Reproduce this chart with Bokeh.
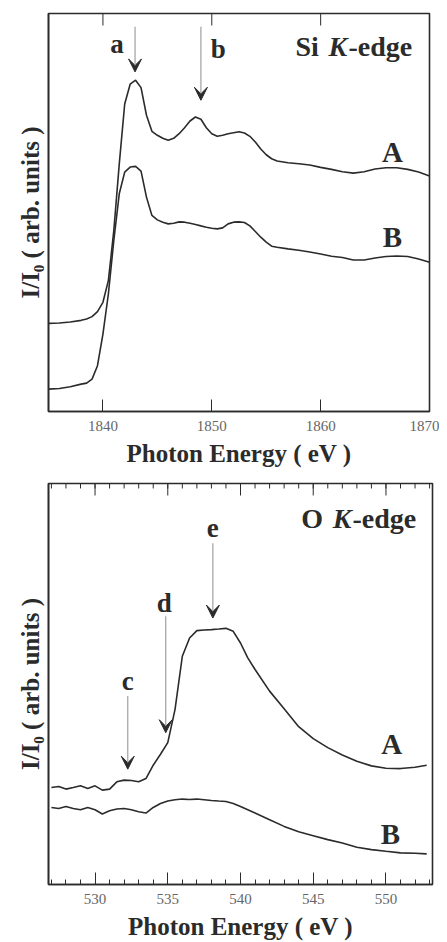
from bokeh.plotting import figure
from bokeh.layouts import column
from bokeh.models import Range1d, FixedTicker, Arrow, VeeHead
from bokeh.core.properties import value
from bokeh.embed import file_html
from bokeh.resources import INLINE

# ---------------- Si K-edge data ----------------
si_energy = [1835, 1836, 1837, 1838, 1838.5, 1839, 1839.5, 1840, 1840.5, 1841, 1841.5, 1842,
             1842.5, 1843, 1843.5, 1844, 1844.5, 1845, 1845.5, 1846, 1846.5, 1847, 1847.5,
             1848, 1848.5, 1849, 1849.5, 1850, 1850.5, 1851, 1851.5, 1852, 1852.5, 1853,
             1853.5, 1854, 1854.5, 1855, 1855.5, 1856, 1857, 1858, 1859, 1860, 1861, 1862,
             1863, 1864, 1865, 1866, 1867, 1868, 1869, 1870]
si_A = [88, 88.3, 89.3, 91, 92.3, 94.7, 99.7, 109, 130.7, 180.7, 247, 307,
        326.7, 330.7, 323.3, 295.7, 279.7, 275.7, 272.7, 270.7, 272.7, 277.3, 283.3,
        290, 294, 291.7, 283.3, 277.3, 274.7, 275.7, 277.3, 278.3, 279.3, 278,
        274.7, 269, 262, 256.3, 252.3, 250, 248.3, 247.3, 246, 243.7, 241.7, 239.3,
        238, 239.3, 242, 243.3, 243.3, 241.7, 239, 235]
si_B = [22.3, 23, 24.7, 27.3, 28.3, 32.3, 45.7, 77.3, 117.3, 170.7, 217.3, 239,
        244, 244.7, 240, 214, 195.7, 191.3, 189, 187.3, 188, 189.3, 189,
        188, 186.7, 185.3, 184, 183, 182.3, 183.3, 187.3, 189, 189.3, 188.7,
        185.3, 179.7, 174, 169, 165, 164, 162.3, 161, 159.3, 157.3, 155, 153.7,
        151.3, 151.3, 153.3, 154.7, 155.3, 154.7, 152.3, 149]
si_ticks = [1840, 1850, 1860, 1870]
si_arrow_labels = ["a", "b"]
si_arrow_x = [1842.95, 1849.0]
si_arrow_top = [384, 384]
si_arrow_tip = [339, 310.7]
si_label_x = [1841.3, 1850.6]
si_label_y = [367, 362]
si_series_names = ["A", "B"]
si_series_x = [1866.6, 1866.6]
si_series_y = [259, 174]

# ---------------- O K-edge data ----------------
o_energy = [527, 527.5, 528, 528.5, 529, 529.5, 530, 530.5, 531, 531.5, 532, 532.5, 533,
            533.5, 534, 534.5, 535, 535.5, 536, 536.5, 537, 537.5, 538, 538.5, 539,
            539.5, 540, 540.5, 541, 542, 543, 544, 545, 546, 547, 548, 549, 550, 551,
            552, 552.8]
o_A = [97.3, 98.3, 95.7, 97.3, 99, 96.3, 99, 94.7, 95.7, 103, 104.7, 104.3, 103,
       106.3, 119.7, 130.7, 142.3, 175.7, 229, 247.3, 254.7, 255.3, 255.7, 256.3, 257,
       254, 242.3, 227.3, 215.7, 194, 176.3, 158.3, 146.3, 137.3, 130, 123.7, 119, 116.7, 116.3,
       117.7, 119.7]
o_B = [77.3, 76.3, 78.3, 76.3, 75, 77.3, 75, 70.7, 74, 75.7, 76.3, 75, 73,
       71.7, 77.3, 81.3, 83.7, 85, 85.7, 85.3, 85.7, 85, 84.3, 83.7, 83.3,
       81.3, 78.3, 75, 71.7, 65, 58.3, 53, 49, 45, 41.7, 37.3, 35, 33.3, 31.7,
       31.3, 30.7]
o_ticks = [530, 535, 540, 545, 550]
o_minor_ticks = list(range(527, 554))
o_arrow_labels = ["c", "d", "e"]
o_arrow_x = [532.25, 534.86, 538.1]
o_arrow_top = [189, 269, 342.3]
o_arrow_tip = [115.7, 152.3, 267.3]
o_label_x = [532.25, 534.75, 538.1]
o_label_y = [204, 282.3, 357.3]
o_series_names = ["A", "B"]
o_series_x = [550.4, 550.3]
o_series_y = [140.7, 50.7]

SERIF = "Liberation Serif"
INK = "#2b2b2b"


def style(p, ticker_major, minor=None, label="Photon Energy ( eV )"):
    p.grid.visible = False
    p.outline_line_color = INK
    p.outline_line_width = 1.6
    p.background_fill_color = "white"
    p.border_fill_color = "white"
    xa = p.xaxis[0]
    xa.ticker = FixedTicker(ticks=ticker_major, minor_ticks=minor or [])
    xa.major_tick_in = 12
    xa.major_tick_out = 0
    xa.minor_tick_in = 5
    xa.minor_tick_out = 0
    xa.major_tick_line_color = INK
    xa.minor_tick_line_color = INK
    xa.axis_line_color = INK
    xa.axis_line_width = 1.6
    xa.major_label_text_font = SERIF
    xa.major_label_text_font_size = "15px"
    xa.major_label_text_color = "#666666"
    xa.major_label_standoff = 9
    xa.axis_label = label
    xa.axis_label_text_font = SERIF
    xa.axis_label_text_font_style = "bold"
    xa.axis_label_text_font_size = "25px"
    xa.axis_label_text_color = INK
    xa.axis_label_standoff = 6

    ya = p.yaxis[0]
    ya.ticker = FixedTicker(ticks=[])
    ya.axis_line_color = INK
    ya.axis_line_width = 1.6
    ya.major_tick_line_color = None
    ya.minor_tick_line_color = None
    ya.axis_label = "I/I\u2080 ( arb. units )"
    ya.axis_label_text_font = SERIF
    ya.axis_label_text_font_style = "bold"
    ya.axis_label_text_font_size = "25px"
    ya.axis_label_text_color = INK
    ya.axis_label_standoff = 5


def top_ticks(p, ticks, ytop, major_len, minor=None, minor_len=0):
    p.segment(x0=ticks, y0=[ytop] * len(ticks), x1=ticks, y1=[ytop - major_len] * len(ticks),
              line_color=INK, line_width=1)
    if minor:
        p.segment(x0=minor, y0=[ytop] * len(minor), x1=minor, y1=[ytop - minor_len] * len(minor),
                  line_color=INK, line_width=1)


def texts(p, xs, ys, labels, size, style_="bold", align="center"):
    p.text(x=xs, y=ys, text=labels, text_font=value(SERIF), text_font_style=style_,
           text_font_size=size, text_color=INK, text_align=align, text_baseline="middle")


def arrows(p, xs, tops, tips):
    for x, t0, t1 in zip(xs, tops, tips):
        p.add_layout(Arrow(x_start=x, y_start=t0, x_end=x, y_end=t1,
                           line_color="#a0a0a0", line_width=1.2,
                           end=VeeHead(size=13, fill_color=INK, line_color=INK, line_width=1)))


# ---------------- top panel ----------------
SI_YMAX = 397.3
p1 = figure(width=439, height=470, output_backend="svg", toolbar_location=None,
            x_range=Range1d(1835, 1870), y_range=Range1d(0, SI_YMAX),
            min_border_left=48, min_border_right=10, min_border_top=13, min_border_bottom=59)
style(p1, si_ticks)
top_ticks(p1, si_ticks, SI_YMAX, 12)
p1.line(si_energy, si_A, line_color=INK, line_width=1.6)
p1.line(si_energy, si_B, line_color=INK, line_width=1.6)
arrows(p1, si_arrow_x, si_arrow_top, si_arrow_tip)
texts(p1, si_label_x, si_label_y, si_arrow_labels, "27px")
texts(p1, si_series_x, si_series_y, si_series_names, "29px")
texts(p1, [1857.69], [364], ["Si"], "28px", align="left")
texts(p1, [1860.72], [364], ["K"], "28px", style_="bold italic", align="left")
texts(p1, [1862.56], [364], ["-edge"], "28px", align="left")

# ---------------- bottom panel ----------------
O_YMAX = 402.3
p2 = figure(width=442, height=472, output_backend="svg", toolbar_location=None,
            x_range=Range1d(526.8, 553.2), y_range=Range1d(0, O_YMAX),
            min_border_left=45, min_border_right=10, min_border_top=13, min_border_bottom=56)
style(p2, o_ticks, o_minor_ticks)
top_ticks(p2, o_ticks, O_YMAX, 12, o_minor_ticks, 5)
p2.line(o_energy, o_A, line_color=INK, line_width=1.6)
p2.line(o_energy, o_B, line_color=INK, line_width=1.6)
arrows(p2, o_arrow_x, o_arrow_top, o_arrow_tip)
texts(p2, o_label_x, o_label_y, o_arrow_labels, "27px")
texts(p2, o_series_x, o_series_y, o_series_names, "29px")
texts(p2, [544.18], [367.3], ["O"], "28px", align="left")
texts(p2, [546.34], [367.3], ["K"], "28px", style_="bold italic", align="left")
texts(p2, [547.7], [367.3], ["-edge"], "28px", align="left")

layout = column(p1, p2, spacing=0)
open("out.html", "w").write(file_html(layout, INLINE))
